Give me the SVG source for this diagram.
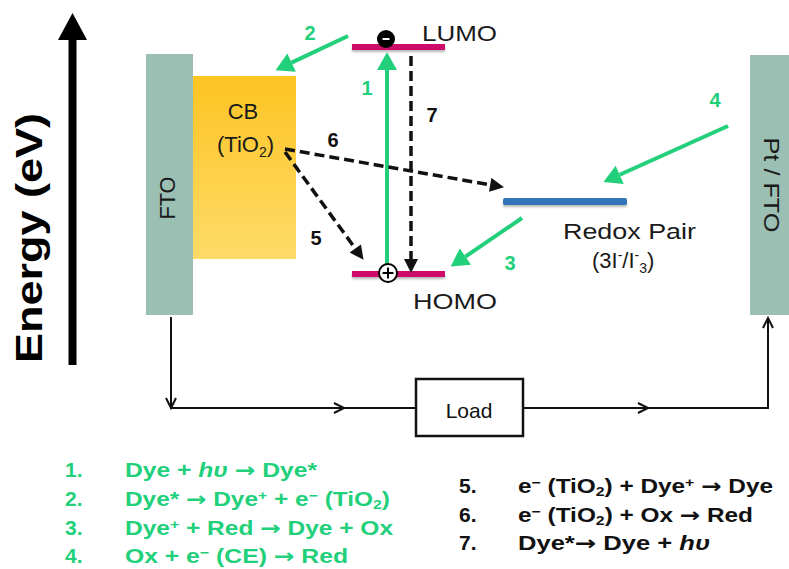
<svg xmlns="http://www.w3.org/2000/svg" width="789" height="569" viewBox="0 0 789 569">
<style>
text{font-family:"Liberation Sans",Arial,sans-serif;}
.lbl{font-size:22px;fill:#1a1a1a;}
.num{font-size:20px;font-weight:bold;}
.g{fill:#22d07b;}
.k{fill:#111;}
.leg{font-size:20px;font-weight:bold;}
.li{font-size:21px;}
.ar{font-family:"DejaVu Sans",sans-serif;}
.garr{stroke:#22d07b;stroke-width:4;fill:none;}
.karr{stroke:#111;stroke-width:3.5;fill:none;stroke-dasharray:10 5;}
.wire{stroke:#111;stroke-width:2;fill:none;}
.sub{font-size:14px;}
.ls{font-size:13px;}
</style>
<defs>
<linearGradient id="cbg" x1="0" y1="0" x2="0" y2="1">
<stop offset="0" stop-color="#fdc423"/>
<stop offset="1" stop-color="#fedb68"/>
</linearGradient>
<filter id="blur1" x="-10%" y="-50%" width="120%" height="200%"><feGaussianBlur stdDeviation="1.2"/></filter>
<filter id="soft" x="-5%" y="-5%" width="110%" height="110%"><feGaussianBlur stdDeviation="0.6"/></filter>
<marker id="gh" markerUnits="userSpaceOnUse" markerWidth="20" markerHeight="20" refX="0" refY="9" orient="auto" viewBox="0 0 16 18">
<path d="M0,0 L16,9 L0,18 Z" fill="#22d07b"/>
</marker>
<marker id="kh" markerUnits="userSpaceOnUse" markerWidth="16" markerHeight="14" refX="0" refY="6.5" orient="auto" viewBox="0 0 13 13">
<path d="M0,0 L13,6.5 L0,13 Z" fill="#111"/>
</marker>
</defs>

<g id="energy-axis">
<rect x="68.5" y="38" width="8" height="327" fill="#000"/>
<polygon points="58,40 72.5,13 87,40" fill="#000"/>
<text transform="translate(42,238) rotate(-90)" text-anchor="middle" font-size="36" font-weight="bold" fill="#000" textLength="250" lengthAdjust="spacingAndGlyphs">Energy (eV)</text>
</g>

<g id="fto">
<rect x="146" y="54" width="47" height="261" fill="#9bbfb3"/>
<text class="lbl" transform="translate(175,198) rotate(-90)" text-anchor="middle" textLength="43" lengthAdjust="spacingAndGlyphs">FTO</text>
</g>

<g id="pt-fto">
<rect x="750" y="55" width="39" height="260" fill="#9bbfb3"/>
<text class="lbl" transform="translate(764,185) rotate(90)" text-anchor="middle" textLength="95" lengthAdjust="spacingAndGlyphs">Pt / FTO</text>
</g>

<g id="cb">
<rect x="193" y="76" width="103" height="183" fill="url(#cbg)" filter="url(#soft)"/>
<text class="lbl" x="243" y="119" text-anchor="middle">CB</text>
<text class="lbl" x="217" y="152">(TiO<tspan class="sub" dy="5">2</tspan><tspan dy="-5">)</tspan></text>
</g>

<g id="lumo">
<rect x="352" y="47" width="93" height="5" fill="#888" opacity="0.6" filter="url(#blur1)"/>
<rect x="352" y="44" width="93" height="6" fill="#cc0b6b"/>
<circle cx="386" cy="39" r="9" fill="#000"/>
<rect x="382.5" y="38" width="7" height="2" fill="#fff"/>
<text class="lbl" x="422" y="41" textLength="75" lengthAdjust="spacingAndGlyphs">LUMO</text>
</g>

<g id="homo">
<rect x="352" y="274" width="93" height="5" fill="#888" opacity="0.6" filter="url(#blur1)"/>
<rect x="352" y="271" width="93" height="6" fill="#cc0b6b"/>
<text class="lbl" x="413" y="309" textLength="84" lengthAdjust="spacingAndGlyphs">HOMO</text>
</g>

<g id="redox">
<rect x="503" y="202" width="124" height="5" fill="#888" opacity="0.6" filter="url(#blur1)"/>
<rect x="503" y="198" width="124" height="7" rx="2" fill="#2f74b8"/>
<text class="lbl" x="563" y="239" textLength="133" lengthAdjust="spacingAndGlyphs">Redox Pair</text>
<text class="lbl" x="592" y="268">(3I<tspan class="sub" dy="-8">-</tspan><tspan dy="8">/I</tspan><tspan class="sub" dy="-8">-</tspan><tspan class="sub" dy="13">3</tspan><tspan dy="-5">)</tspan></text>
</g>

<g id="load">
<rect x="416" y="379" width="107" height="57" fill="#fff" stroke="#111" stroke-width="2.5"/>
<text x="469" y="418" text-anchor="middle" font-size="21" fill="#111">Load</text>
</g>

<g id="connectors">
<path class="garr" d="M387,268 V70" marker-end="url(#gh)"/>
<path class="garr" d="M348,36 L291.6,62.6" marker-end="url(#gh)"/>
<path class="garr" d="M522,218 L465.4,256.6" marker-end="url(#gh)"/>
<path class="garr" d="M728,126 L619.7,174.8" marker-end="url(#gh)"/>
<path class="karr" d="M411,56 V259" marker-end="url(#kh)"/>
<path class="karr" d="M285,149 L490.2,184.8" marker-end="url(#kh)"/>
<path class="karr" d="M285,152 L355.3,248.5" marker-end="url(#kh)"/>
<path class="wire" d="M171,317 V408 H416"/>
<path class="wire" d="M523,408 H768 V318"/>
<polyline class="wire" points="166,398 171,408 176,398"/>
<polyline class="wire" points="334,403 344,408 334,413"/>
<polyline class="wire" points="638,403 648,408 638,413"/>
<polyline class="wire" points="763,328 768,318 773,328"/>
</g>

<g id="homo-hole">
<circle cx="388" cy="273" r="9" fill="#fff" stroke="#000" stroke-width="2"/>
<path d="M382.5,273 H393.5 M388,267.5 V278.5" stroke="#000" stroke-width="2"/>
</g>

<g id="labels">
<text class="num g" x="367" y="95" text-anchor="middle">1</text>
<text class="num g" x="310" y="40" text-anchor="middle">2</text>
<text class="num g" x="510" y="270" text-anchor="middle">3</text>
<text class="num g" x="715" y="107" text-anchor="middle">4</text>
<text class="num k" x="316" y="245" text-anchor="middle">5</text>
<text class="num k" x="333" y="147" text-anchor="middle">6</text>
<text class="num k" x="432" y="122" text-anchor="middle">7</text>
</g>

<g id="legend-green" class="leg g">
<text class="li" x="65" y="477">1.</text>
<text class="li" x="65" y="506">2.</text>
<text class="li" x="65" y="535">3.</text>
<text class="li" x="65" y="563">4.</text>
<text x="125" y="477" textLength="192" lengthAdjust="spacingAndGlyphs">Dye + <tspan font-style="italic">hυ</tspan> <tspan class="ar">→</tspan> Dye*</text>
<text x="125" y="506" textLength="265" lengthAdjust="spacingAndGlyphs">Dye* <tspan class="ar">→</tspan> Dye<tspan class="ls" dy="-6">+</tspan><tspan dy="6"> + e</tspan><tspan class="ls" dy="-6">−</tspan><tspan dy="6"> (TiO</tspan><tspan class="ls" dy="3">2</tspan><tspan dy="-3">)</tspan></text>
<text x="125" y="535" textLength="268" lengthAdjust="spacingAndGlyphs">Dye<tspan class="ls" dy="-6">+</tspan><tspan dy="6"> + Red </tspan><tspan class="ar">→</tspan> Dye + Ox</text>
<text x="125" y="563" textLength="223" lengthAdjust="spacingAndGlyphs">Ox + e<tspan class="ls" dy="-6">−</tspan><tspan dy="6"> (CE) </tspan><tspan class="ar">→</tspan> Red</text>
</g>

<g id="legend-black" class="leg k">
<text class="li" x="459" y="493">5.</text>
<text class="li" x="459" y="522">6.</text>
<text class="li" x="459" y="550">7.</text>
<text x="518" y="493" textLength="255" lengthAdjust="spacingAndGlyphs">e<tspan class="ls" dy="-6">−</tspan><tspan dy="6"> (TiO</tspan><tspan class="ls" dy="3">2</tspan><tspan dy="-3">) + Dye</tspan><tspan class="ls" dy="-6">+</tspan><tspan dy="6"> </tspan><tspan class="ar">→</tspan> Dye</text>
<text x="518" y="522" textLength="235" lengthAdjust="spacingAndGlyphs">e<tspan class="ls" dy="-6">−</tspan><tspan dy="6"> (TiO</tspan><tspan class="ls" dy="3">2</tspan><tspan dy="-3">) + Ox </tspan><tspan class="ar">→</tspan> Red</text>
<text x="518" y="550" textLength="192" lengthAdjust="spacingAndGlyphs">Dye*<tspan class="ar">→</tspan> Dye + <tspan font-style="italic">hυ</tspan></text>
</g>
</svg>
